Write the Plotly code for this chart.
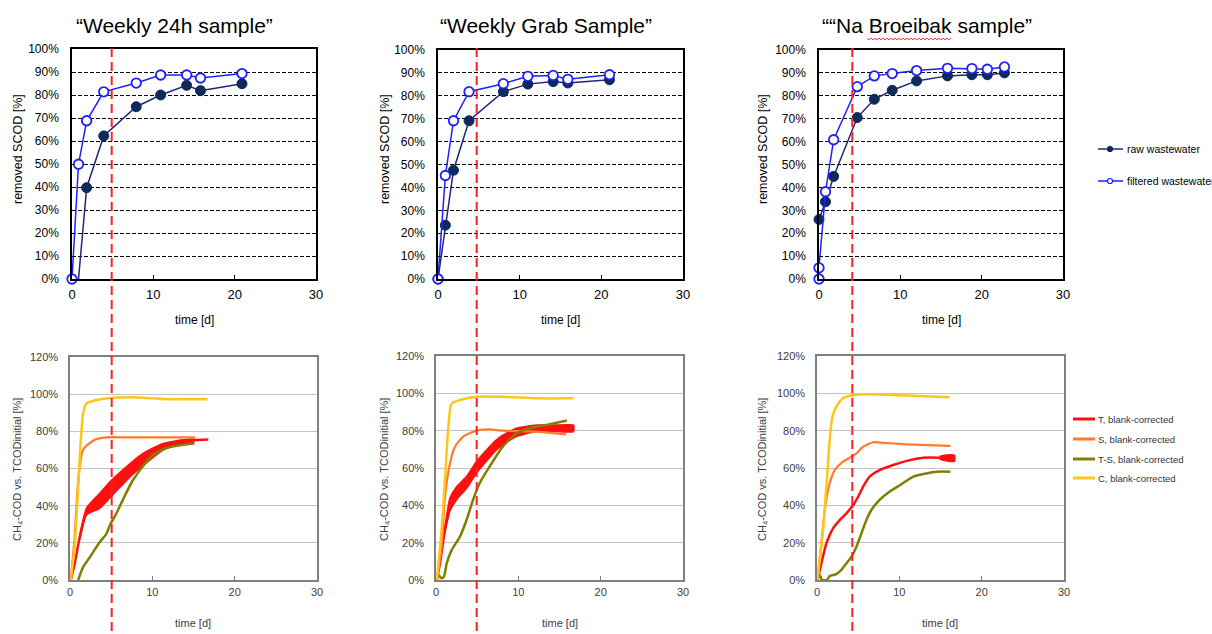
import plotly.graph_objects as go

W, H = 1212, 634

# ---------------- data ----------------
titles = ["\u201cWeekly 24h sample\u201d", "\u201cWeekly Grab Sample\u201d", "\u201c\u201cNa Broeibak sample\u201d"]

# top row: removed SCOD [%]
tl_raw_x = [0.8, 1.8, 3.9, 7.9, 10.9, 14.1, 15.8, 20.9]
tl_raw_y = [0, 39.7, 62.2, 74.9, 80.0, 84.2, 81.9, 84.9]
tl_fil_x = [0, 0.8, 1.8, 3.9, 7.9, 10.9, 14.1, 15.8, 20.9]
tl_fil_y = [0, 49.9, 68.8, 81.4, 85.2, 88.7, 88.7, 87.4, 89.3]

tm_x = [0, 0.9, 1.9, 3.8, 8.0, 11.0, 14.1, 15.9, 21.0]
tm_raw_y = [0, 23.5, 47.5, 69.1, 81.8, 85.1, 86.2, 85.6, 87.0]
tm_fil_y = [0, 45.2, 69.1, 81.8, 85.3, 88.5, 88.9, 87.2, 89.2]

tr_raw_x = [0, 0.8, 1.8, 4.7, 6.8, 9.0, 12.0, 15.8, 18.8, 20.7, 22.8]
tr_raw_y = [26.0, 33.7, 44.8, 70.5, 78.5, 82.4, 86.5, 88.7, 89.2, 89.2, 90.0]
tr_fil_x = [0, 0, 0.8, 1.8, 4.7, 6.8, 9.0, 12.0, 15.8, 18.8, 20.7, 22.8]
tr_fil_y = [0, 4.9, 38.1, 60.8, 84.0, 88.7, 89.7, 91.0, 92.0, 91.9, 91.6, 92.6]

# bottom row: CH4-COD vs TCODinitial [%]
bl_T_x = [0.1, 0.56, 1.17, 1.77, 2.38, 3.6, 5.0, 6.4, 8.0, 9.6, 11.65, 13.7, 15.1, 16.8]
bl_T_y = [0, 8.6, 22.9, 33.7, 39, 43.5, 49.5, 56.5, 63.5, 68.5, 72.5, 74.5, 75.3, 75.6]
bl_Tband_x = [1.2, 2.0, 3.6, 5.0, 7.3, 9.0, 11.3, 13.0, 15.0]
bl_Tband_hi = [24, 38.7, 46.6, 53.5, 62.7, 68.5, 73.5, 75.0, 75.8]
bl_Tband_lo = [22, 35.0, 38.5, 45.0, 55.5, 62.0, 69.9, 72.5, 73.6]
bl_S_x = [0.1, 0.56, 0.85, 1.17, 1.57, 2.18, 3.2, 4.4, 7.6, 15.2]
bl_S_y = [0, 23, 44.8, 61, 69.9, 73, 75.8, 76.8, 76.7, 76.7]
bl_TS_x = [1.0, 1.57, 2.4, 3.6, 4.4, 4.9, 5.6, 6.4, 7.6, 8.8, 9.3, 10.0, 11.65, 13.7, 15.1]
bl_TS_y = [0, 6.8, 12.2, 20.3, 24.7, 30, 35.5, 43, 53.4, 61, 63.6, 67.0, 71.0, 72.8, 73.4]
bl_C_x = [0.1, 0.56, 0.97, 1.25, 1.57, 1.98, 2.78, 4.4, 6.0, 8.4, 11.7, 16.7]
bl_C_y = [0, 17.9, 48, 71, 89, 95, 96.4, 97.7, 98.2, 98.2, 97.3, 97.3]

bm_T_x = [0.1, 0.48, 1.09, 1.7, 2.5, 3.7, 4.9, 6.1, 7.3, 8.95, 10.6, 13.0, 16.7]
bm_T_y = [0, 8.9, 26.8, 39.3, 46.4, 52.5, 60.2, 66.5, 72.3, 77.7, 80.4, 81.3, 81.3]
bm_Tband_x = [1.0, 1.7, 2.5, 3.7, 4.9, 6.1, 7.3, 8.5, 9.75, 12.2, 14.5, 16.7]
bm_Tband_hi = [26, 44, 50, 55.4, 63.4, 69.5, 75.0, 78.5, 81.3, 83.0, 83.0, 83.0]
bm_Tband_lo = [24, 37, 43, 49.0, 57.1, 63.5, 69.6, 73.5, 76.8, 79.5, 79.5, 79.5]
bm_S_x = [0.1, 0.68, 1.09, 1.7, 2.3, 3.3, 4.9, 6.5, 8.1, 12.2, 15.8]
bm_S_y = [0, 17.9, 44.6, 62.5, 71.4, 76.8, 80, 80.7, 80, 79.5, 78]
bm_TS_x = [0.1, 0.3, 0.68, 0.97, 1.3, 1.9, 2.9, 3.7, 4.5, 5.3, 6.5, 8.1, 9.8, 11.4, 13.4, 15.9]
bm_TS_y = [0, 2.7, 0.9, 1.8, 8.9, 16, 23.2, 32, 42.9, 51.8, 60.7, 71.4, 78.6, 81.3, 83, 85.4]
bm_C_x = [0.1, 0.68, 1.09, 1.5, 1.9, 2.9, 4.9, 8.1, 12.2, 16.7]
bm_C_y = [0, 26.8, 53.6, 82, 94.6, 96.4, 98.2, 98.2, 97.3, 97.3]

br_T_x = [0.05, 0.53, 1.14, 1.95, 2.76, 3.57, 4.4, 5.0, 5.6, 6.4, 7.6, 9.25, 10.9, 12.9, 14.9, 16.55]
br_T_y = [0, 8.9, 19.6, 27.7, 32.1, 35.7, 40.2, 44.6, 50, 55.4, 58.9, 61.6, 63.8, 65.5, 65.5, 65]
br_Tband_x = [14.9, 15.8, 16.7]
br_Tband_hi = [66.3, 67.0, 66.8]
br_Tband_lo = [64.7, 63.8, 63.6]
br_S_x = [0.05, 0.53, 1.05, 1.54, 2.15, 3.16, 4.2, 4.8, 5.6, 6.8, 7.6, 10.9, 16.2]
br_S_y = [0, 19.6, 41, 51.8, 58.9, 63.4, 66.1, 67.9, 71.4, 73.8, 73.6, 72.7, 71.8]
br_TS_x = [0.05, 0.3, 0.6, 1.2, 1.54, 2.35, 2.96, 3.57, 4.2, 4.8, 5.4, 6.0, 6.6, 7.6, 8.8, 10.1, 11.7, 13.3, 14.5, 16.2]
br_TS_y = [0, 3, 0, 0, 2.1, 3.2, 5.4, 8.9, 12.5, 17.9, 25, 32.1, 37.5, 42.9, 47.3, 50.9, 55.4, 57.1, 58, 58]
br_C_x = [0.05, 0.73, 1.2, 1.54, 1.87, 2.35, 3.16, 4.4, 6.8, 10.9, 16.1]
br_C_y = [0, 26.8, 53.6, 75, 87.5, 92.9, 97.3, 99.1, 99.5, 98.8, 97.9]

top_legend = ["raw wastewater", "filtered wastewater"]
bot_legend = ["T, blank-corrected", "S, blank-corrected", "T-S, blank-corrected", "C, blank-corrected"]

# ---------------- styles ----------------
FONT = "Liberation Sans, Arial, sans-serif"
RAW_LINE = "#24247a"
RAW_MK = "#0d2a5a"
FIL = "#1f1fff"
C_T, C_S, C_TS, C_C = "#ff1010", "#ff7a2a", "#7f8000", "#ffc61a"


def px(x):
    return x / W


def py(y):
    return 1 - y / H


panels = [
    (72, 316, 49, 279),
    (438, 683, 50, 279),
    (819, 1063, 50, 279),
    (70, 317, 357, 580),
    (436, 683, 356, 580),
    (817, 1064, 356, 580),
]

fig = go.Figure()
layout = dict(autosize=True, margin=dict(l=0, r=0, t=0, b=0, autoexpand=False),
              paper_bgcolor="white", plot_bgcolor="white", showlegend=False,
              font=dict(family=FONT, color="black"))

for i, (x0, x1, y0, y1) in enumerate(panels):
    n = i + 1
    top = i < 3
    xa = dict(domain=[px(x0), px(x1)], range=[0, 30], tickvals=[0, 10, 20, 30],
              showline=True, mirror=True, linewidth=1.5,
              linecolor="black" if top else "#808080",
              ticks="inside", ticklen=4, tickcolor="black" if top else "#808080",
              showgrid=False, zeroline=False, anchor="y%d" % n,
              tickfont=dict(size=13 if top else 11, color="black" if top else "#404040"),
              ticklabelstandoff=3 if top else 1)
    if top:
        ya = dict(domain=[py(y1), py(y0)], range=[0, 100], dtick=10, ticksuffix="%",
                  showline=True, mirror=True, linewidth=1.5, linecolor="black",
                  showgrid=True, gridcolor="black", griddash="4px,2px", gridwidth=1,
                  ticks="", zeroline=False, anchor="x%d" % n,
                  tickfont=dict(size=12, color="black"), ticklabelstandoff=9)
    else:
        ya = dict(domain=[py(y1), py(y0)], range=[0, 120], dtick=20, ticksuffix="%",
                  showline=True, mirror=True, linewidth=1.5, linecolor="#808080",
                  showgrid=True, gridcolor="#c4c4c4", gridwidth=1,
                  ticks="", zeroline=False, anchor="x%d" % n,
                  tickfont=dict(size=11, color="#404040"), ticklabelstandoff=8)
    layout["xaxis" if n == 1 else "xaxis%d" % n] = xa
    layout["yaxis" if n == 1 else "yaxis%d" % n] = ya


def xy(n):
    return ("x" if n == 1 else "x%d" % n), ("y" if n == 1 else "y%d" % n)


def raw_line(x, y, n):
    xa, ya = xy(n)
    return go.Scatter(x=x, y=y, xaxis=xa, yaxis=ya, mode="lines",
                      line=dict(color=RAW_LINE, width=1.5), cliponaxis=False)


def raw_marks(x, y, n):
    xa, ya = xy(n)
    return go.Scatter(x=x, y=y, xaxis=xa, yaxis=ya, mode="markers",
                      marker=dict(color=RAW_MK, size=10, line=dict(color=RAW_MK, width=1)),
                      cliponaxis=False)


def fil_trace(x, y, n):
    xa, ya = xy(n)
    return go.Scatter(x=x, y=y, xaxis=xa, yaxis=ya, mode="lines+markers",
                      line=dict(color=FIL, width=1.5),
                      marker=dict(color="white", size=9.5, line=dict(color=FIL, width=1.8)),
                      cliponaxis=False)


fig.add_trace(raw_line(tl_raw_x, tl_raw_y, 1))
fig.add_trace(raw_marks(tl_raw_x[1:], tl_raw_y[1:], 1))
fig.add_trace(fil_trace(tl_fil_x, tl_fil_y, 1))
fig.add_trace(raw_line(tm_x, tm_raw_y, 2))
fig.add_trace(raw_marks(tm_x, tm_raw_y, 2))
fig.add_trace(fil_trace(tm_x, tm_fil_y, 2))
fig.add_trace(raw_line(tr_raw_x, tr_raw_y, 3))
fig.add_trace(raw_marks(tr_raw_x, tr_raw_y, 3))
fig.add_trace(fil_trace(tr_fil_x, tr_fil_y, 3))


def line(x, y, n, color, width=2.5):
    xa, ya = xy(n)
    return go.Scatter(x=x, y=y, xaxis=xa, yaxis=ya, mode="lines",
                      line=dict(color=color, width=width, shape="spline", smoothing=0.6))


def band(x, hi, lo, n, color):
    xa, ya = xy(n)
    return go.Scatter(x=list(x) + list(x)[::-1], y=list(hi) + list(lo)[::-1],
                      xaxis=xa, yaxis=ya, mode="lines", fill="toself", fillcolor=color,
                      line=dict(color=color, width=1.5, shape="spline", smoothing=0.5))


bottom = [
    (4, bl_T_x, bl_T_y, bl_Tband_x, bl_Tband_hi, bl_Tband_lo, bl_S_x, bl_S_y, bl_TS_x, bl_TS_y, bl_C_x, bl_C_y),
    (5, bm_T_x, bm_T_y, bm_Tband_x, bm_Tband_hi, bm_Tband_lo, bm_S_x, bm_S_y, bm_TS_x, bm_TS_y, bm_C_x, bm_C_y),
    (6, br_T_x, br_T_y, br_Tband_x, br_Tband_hi, br_Tband_lo, br_S_x, br_S_y, br_TS_x, br_TS_y, br_C_x, br_C_y),
]
for (n, tx, ty, bx, bhi, blo, sx, sy, tsx, tsy, cx, cy) in bottom:
    fig.add_trace(line(tx, ty, n, C_T, 2.5))
    fig.add_trace(band(bx, bhi, blo, n, C_T))
    fig.add_trace(line(sx, sy, n, C_S, 2.2))
    fig.add_trace(line(tsx, tsy, n, C_TS, 2.5))
    fig.add_trace(line(cx, cy, n, C_C, 2.5))

shapes = []
annotations = []

# red dashed vertical reference lines
for xv in [111.7, 476.7, 852.3]:
    shapes.append(dict(type="line", xref="paper", yref="paper", x0=px(xv), x1=px(xv),
                       y0=py(48), y1=py(634), line=dict(color="#ff2020", width=2, dash="9px,5px")))

# titles
for t, cxp in zip(titles, [174, 546, 927]):
    annotations.append(dict(text=t, xref="paper", yref="paper", x=px(cxp), y=py(26),
                            xanchor="center", yanchor="middle", showarrow=False,
                            font=dict(size=21, color="black", family=FONT)))

# spell-check squiggle under "Broeibak"
xs = 867.0
pts = []
k = 0
while xs <= 952:
    pts.append((xs, 38.5 + (1.3 if k % 2 else -0.3)))
    xs += 2.0
    k += 1
path = "M " + " L ".join("%.5f,%.5f" % (px(a), py(b)) for a, b in pts)
shapes.append(dict(type="path", xref="paper", yref="paper", path=path,
                   line=dict(color="#ff3030", width=1)))

# axis titles
for cx_ in [194, 560, 941]:
    annotations.append(dict(text="time [d]", xref="paper", yref="paper", x=px(cx_), y=py(320),
                            xanchor="center", yanchor="middle", showarrow=False,
                            font=dict(size=12, color="black")))
for cx_ in [193, 560, 940]:
    annotations.append(dict(text="time [d]", xref="paper", yref="paper", x=px(cx_), y=py(623),
                            xanchor="center", yanchor="middle", showarrow=False,
                            font=dict(size=11, color="#404040")))
for cx_ in [18, 385, 763]:
    annotations.append(dict(text="removed SCOD [%]", xref="paper", yref="paper", x=px(cx_), y=py(149),
                            xanchor="center", yanchor="middle", showarrow=False, textangle=-90,
                            font=dict(size=12.5, color="black")))
    annotations.append(dict(text="CH<sub>4</sub>-COD vs. TCODinitial [%]", xref="paper", yref="paper",
                            x=px(cx_), y=py(470), xanchor="center", yanchor="middle",
                            showarrow=False, textangle=-90, font=dict(size=11, color="#404040")))

# top legend (manual)
for name, yy, fill, lc in [(top_legend[0], 149, RAW_MK, RAW_LINE), (top_legend[1], 181, "white", FIL)]:
    shapes.append(dict(type="line", xref="paper", yref="paper", x0=px(1098), x1=px(1123),
                       y0=py(yy), y1=py(yy), line=dict(color=lc, width=1.5)))
    shapes.append(dict(type="circle", xref="paper", yref="paper", x0=px(1107.5), x1=px(1112.5),
                       y0=py(yy + 2.5), y1=py(yy - 2.5), fillcolor=fill,
                       line=dict(color=lc if fill == "white" else fill, width=1.2)))
    annotations.append(dict(text=name, xref="paper", yref="paper", x=px(1125), y=py(yy),
                            xanchor="left", yanchor="middle", showarrow=False,
                            font=dict(size=10.5, color="black")))

# bottom legend (manual)
for name, yy, col in zip(bot_legend, [419, 439, 459, 478], [C_T, C_S, C_TS, C_C]):
    shapes.append(dict(type="line", xref="paper", yref="paper", x0=px(1073), x1=px(1095),
                       y0=py(yy), y1=py(yy), line=dict(color=col, width=3)))
    annotations.append(dict(text=name, xref="paper", yref="paper", x=px(1096), y=py(yy),
                            xanchor="left", yanchor="middle", showarrow=False,
                            font=dict(size=9.5, color="#333333")))

layout["shapes"] = shapes
layout["annotations"] = annotations
fig.update_layout(**layout)

post = ("var gd=document.getElementById('{plot_id}');"
        "document.documentElement.style.margin='0px';document.body.style.margin='0px';"
        "document.body.style.padding='0px';"
        "document.documentElement.style.overflow='hidden';document.body.style.overflow='hidden';"
        "gd.style.position='fixed';gd.style.left='0px';gd.style.top='0px';"
        "gd.style.width='100vw';gd.style.height='100vh';"
        "Plotly.Plots.resize(gd);")
fig.write_html("out.html", config={"responsive": True, "displayModeBar": False},
               default_width="100vw", default_height="100vh", post_script=post)
